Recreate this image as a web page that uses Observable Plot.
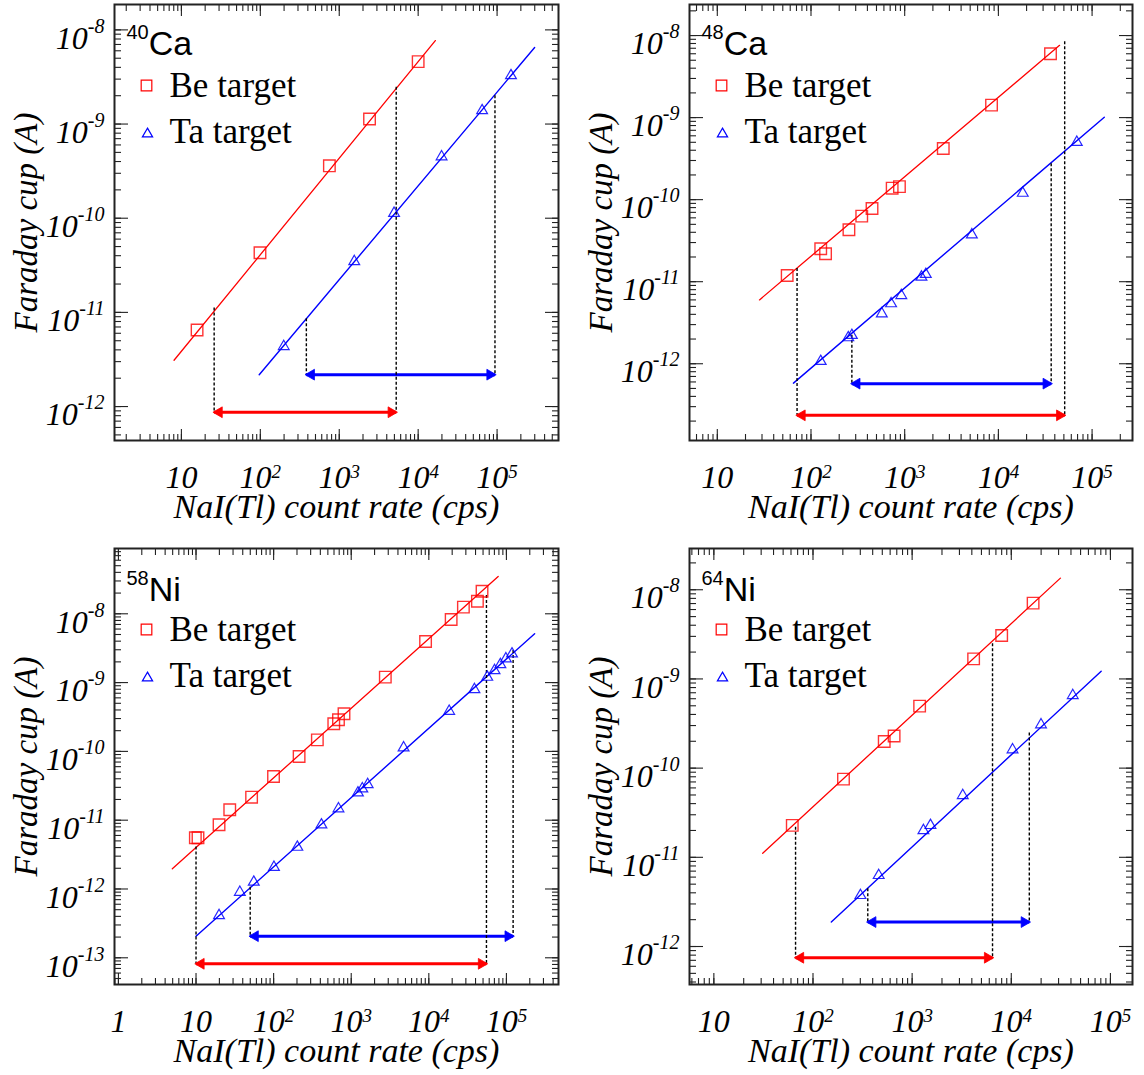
<!DOCTYPE html>
<html>
<head>
<meta charset="utf-8">
<script src="https://cdn.jsdelivr.net/npm/d3@7"></script>
<script src="https://cdn.jsdelivr.net/npm/@observablehq/plot@0.6"></script>
<style>
  body { margin: 0; background: #fff; }
  #grid { display: grid; grid-template-columns: 572px 572px; width: 1144px; }
  #grid svg { display: block; overflow: visible; }
</style>
</head>
<body>
<div id="grid"></div>
<script>
// ---------- Panel 1: 40Ca ----------
const ca40BeX = [15.8, 99, 750, 2420, 10000];
const ca40BeY = [6.5e-12, 4.3e-11, 3.6e-10, 1.13e-9, 4.6e-9];
const ca40TaX = [198, 1550, 4950, 19800, 64600, 150000];
const ca40TaY = [4.35e-12, 3.47e-11, 1.13e-10, 4.5e-10, 1.39e-9, 3.27e-9];
const ca40BeFitX = [8.07, 16500];
const ca40BeFitY = [3.1e-12, 7.7e-9];
const ca40TaFitX = [96.8, 299000];
const ca40TaFitY = [2.18e-12, 6.5e-9];
const ca40BeRangeX = [26, 5270];
const ca40BeRangeTop = [1.11e-11, 2.46e-9];
const ca40BeArrowY = [8.7e-13];
const ca40TaRangeX = [383, 94000];
const ca40TaRangeTop = [8.55e-12, 2.0e-9];
const ca40TaArrowY = [2.18e-12];

// ---------- Panel 2: 48Ca ----------
const ca48BeX = [55.7, 127, 143, 254, 348, 448, 735, 879, 2580, 8450, 36000];
const ca48BeY = [1.19e-11, 2.52e-11, 2.19e-11, 4.3e-11, 6.3e-11, 7.8e-11, 1.38e-10, 1.44e-10, 4.2e-10, 1.42e-9, 6.0e-9];
const ca48TaX = [127, 250, 273, 570, 716, 920, 1510, 1680, 5210, 18200, 68700];
const ca48TaY = [1.07e-12, 2.08e-12, 2.22e-12, 4.07e-12, 5.4e-12, 6.8e-12, 1.14e-11, 1.23e-11, 3.73e-11, 1.2e-10, 5.0e-10];
const ca48BeFitX = [28.2, 45000];
const ca48BeFitY = [6.0e-12, 7.6e-9];
const ca48TaFitX = [65, 135000];
const ca48TaFitY = [5.8e-13, 1.01e-9];
const ca48BeRangeX = [71, 51000];
const ca48BeRangeTop = [1.45e-11, 8.4e-9];
const ca48BeArrowY = [2.35e-13];
const ca48TaRangeX = [273, 36600];
const ca48TaRangeTop = [2.22e-12, 2.74e-10];
const ca48TaArrowY = [5.72e-13];

// ---------- Panel 3: 58Ni ----------
const ni58BeX = [9.8, 10.6, 19.8, 27.2, 52, 99.7, 213, 366, 596, 685, 807, 2750, 9080, 19400, 27900, 42300, 48500];
const ni58BeY = [5.55e-12, 5.55e-12, 8.57e-12, 1.42e-11, 2.16e-11, 4.31e-11, 8.43e-11, 1.47e-10, 2.52e-10, 2.88e-10, 3.52e-10, 1.2e-9, 3.95e-9, 8.26e-9, 1.25e-8, 1.52e-8, 2.13e-8];
const ni58TaX = [19.8, 36.7, 55.5, 101, 202, 413, 685, 1220, 1390, 1630, 4730, 18300, 38700, 56600, 70300, 83600, 98400, 118000];
const ni58TaY = [4.12e-13, 8.98e-13, 1.26e-12, 2.07e-12, 4.06e-12, 8.57e-12, 1.47e-11, 2.5e-11, 2.86e-11, 3.3e-11, 1.13e-10, 3.84e-10, 7.94e-10, 1.2e-9, 1.5e-9, 1.83e-9, 2.22e-9, 2.62e-9];
const ni58BeFitX = [4.95, 78300];
const ni58BeFitY = [1.97e-12, 3.48e-8];
const ni58TaFitX = [10, 231000];
const ni58TaFitY = [2.06e-13, 5.12e-9];
const ni58BeRangeX = [10, 55300];
const ni58BeRangeTop = [4.06e-12, 1.85e-8];
const ni58BeArrowY = [8.18e-14];
const ni58TaRangeX = [49.9, 122000];
const ni58TaRangeTop = [1.06e-12, 2.93e-9];
const ni58TaArrowY = [2.06e-13];

// ---------- Panel 4: 64Ni ----------
const ni64BeX = [61.8, 203, 523, 658, 1190, 4170, 8000, 16600];
const ni64BeY = [2.28e-11, 7.53e-11, 1.99e-10, 2.29e-10, 4.96e-10, 1.68e-9, 3.07e-9, 7.08e-9];
const ni64TaX = [301, 460, 1300, 1530, 3240, 10300, 19950, 41700];
const ni64TaY = [3.74e-12, 6.27e-12, 2.0e-11, 2.28e-11, 4.94e-11, 1.61e-10, 3.07e-10, 6.53e-10];
const ni64BeFitX = [31.1, 31300];
const ni64BeFitY = [1.11e-11, 1.35e-8];
const ni64TaFitX = [153, 80700];
const ni64TaFitY = [1.88e-12, 1.22e-9];
const ni64BeRangeX = [66.7, 6470];
const ni64BeRangeTop = [2.18e-11, 2.48e-9];
const ni64BeArrowY = [7.48e-13];
const ni64TaRangeX = [357, 15200];
const ni64TaRangeTop = [4.45e-12, 2.47e-10];
const ni64TaArrowY = [1.88e-12];

// ---------- axes: tick values and labels ----------
const xTicksA = [10, 100, 1e3, 1e4, 1e5];
const xLabelsA = ["10", "10^{2}", "10^{3}", "10^{4}", "10^{5}"];
const xTicksB = [1, 10, 100, 1e3, 1e4, 1e5];
const xLabelsB = ["1", "10", "10^{2}", "10^{3}", "10^{4}", "10^{5}"];
const yTicksA = [1e-8, 1e-9, 1e-10, 1e-11, 1e-12];
const yLabelsA = ["10^{-8}", "10^{-9}", "10^{-10}", "10^{-11}", "10^{-12}"];
const yTicksB = [1e-8, 1e-9, 1e-10, 1e-11, 1e-12, 1e-13];
const yLabelsB = ["10^{-8}", "10^{-9}", "10^{-10}", "10^{-11}", "10^{-12}", "10^{-13}"];

const nuclides = ["^{40}Ca", "^{48}Ca", "^{58}Ni", "^{64}Ni"];
const legendLabels = ["Be target", "Ta target"];
const xTitle = ["NaI(Tl) count rate (cps)"];
const yTitle = ["Faraday cup (A)"];

const xDomains = [[1.42, 6.0e5], [5.05, 2.7e5], [0.89, 4.69e5], [5.68, 1.67e5]];
const yDomains = [[4.36e-13, 1.86e-8], [1.16e-13, 2.39e-8], [4.09e-14, 8.89e-8], [3.75e-13, 2.9e-8]];

const RED = "#ff0000", BLUE = "#0000ff";
const SERIF = "'Liberation Serif','Times New Roman',Times,serif";
const SANS = "'Liberation Sans',Arial,Helvetica,sans-serif";

const panels = [
  {name: nuclides[0], beX: ca40BeX, beY: ca40BeY, taX: ca40TaX, taY: ca40TaY,
   beFitX: ca40BeFitX, beFitY: ca40BeFitY, taFitX: ca40TaFitX, taFitY: ca40TaFitY,
   beRX: ca40BeRangeX, beRTop: ca40BeRangeTop, beAY: ca40BeArrowY,
   taRX: ca40TaRangeX, taRTop: ca40TaRangeTop, taAY: ca40TaArrowY,
   xTicks: xTicksA, xLabels: xLabelsA, yTicks: yTicksA, yLabels: yLabelsA,
   xDomain: xDomains[0], yDomain: yDomains[0],
   height: 540, mt: 4, mb: 100, ml: 114, mr: 14, nameDy: 50},
  {name: nuclides[1], beX: ca48BeX, beY: ca48BeY, taX: ca48TaX, taY: ca48TaY,
   beFitX: ca48BeFitX, beFitY: ca48BeFitY, taFitX: ca48TaFitX, taFitY: ca48TaFitY,
   beRX: ca48BeRangeX, beRTop: ca48BeRangeTop, beAY: ca48BeArrowY,
   taRX: ca48TaRangeX, taRTop: ca48TaRangeTop, taAY: ca48TaArrowY,
   xTicks: xTicksA, xLabels: xLabelsA, yTicks: yTicksA, yLabels: yLabelsA,
   xDomain: xDomains[1], yDomain: yDomains[1],
   height: 540, mt: 4, mb: 100, ml: 117, mr: 12, nameDy: 50},
  {name: nuclides[2], beX: ni58BeX, beY: ni58BeY, taX: ni58TaX, taY: ni58TaY,
   beFitX: ni58BeFitX, beFitY: ni58BeFitY, taFitX: ni58TaFitX, taFitY: ni58TaFitY,
   beRX: ni58BeRangeX, beRTop: ni58BeRangeTop, beAY: ni58BeArrowY,
   taRX: ni58TaRangeX, taRTop: ni58TaRangeTop, taAY: ni58TaArrowY,
   xTicks: xTicksB, xLabels: xLabelsB, yTicks: yTicksB, yLabels: yLabelsB,
   xDomain: xDomains[2], yDomain: yDomains[2],
   height: 535, mt: 8, mb: 91, ml: 114, mr: 14, nameDy: 52},
  {name: nuclides[3], beX: ni64BeX, beY: ni64BeY, taX: ni64TaX, taY: ni64TaY,
   beFitX: ni64BeFitX, beFitY: ni64BeFitY, taFitX: ni64TaFitX, taFitY: ni64TaFitY,
   beRX: ni64BeRangeX, beRTop: ni64BeRangeTop, beAY: ni64BeArrowY,
   taRX: ni64TaRangeX, taRTop: ni64TaRangeTop, taAY: ni64TaArrowY,
   xTicks: xTicksA, xLabels: xLabelsA, yTicks: yTicksA, yLabels: yLabelsA,
   xDomain: xDomains[3], yDomain: yDomains[3],
   height: 535, mt: 8, mb: 91, ml: 117, mr: 12, nameDy: 52}
];

function rangeMarks(rx, rtop, ay, color) {
  return [
    Plot.ruleX(rx, {x: d => d, y1: (d, i) => rtop[i], y2: () => ay[0],
      stroke: "black", strokeWidth: 1.4, strokeDasharray: "3,2"}),
    Plot.link(ay, {x1: () => rx[0], x2: () => rx[1], y1: d => d, y2: d => d,
      stroke: color, strokeWidth: 3}),
    Plot.dot(ay, {x: () => rx[0], y: d => d, symbol: "triangle", rotate: -90, r: 4,
      fill: color, stroke: color, strokeWidth: 0.8, dx: 5}),
    Plot.dot(ay, {x: () => rx[1], y: d => d, symbol: "triangle", rotate: 90, r: 4,
      fill: color, stroke: color, strokeWidth: 0.8, dx: -5})
  ];
}

function makePanel(p) {
  const xLab = new Map(p.xTicks.map((v, i) => [v, p.xLabels[i]]));
  const yLab = new Map(p.yTicks.map((v, i) => [v, p.yLabels[i]]));
  const tk = {stroke: "#222", strokeWidth: 1.1, fill: "none"};
  const txt = {fontFamily: SERIF, fontStyle: "italic", fontSize: 32, fill: "black"};
  const marks = [];
  for (const anchor of ["bottom", "top"]) {
    marks.push(Plot.axisX({anchor, ticks: 80, tickSize: -6, ...tk}));
    marks.push(Plot.axisX(p.xTicks, {anchor, tickSize: -11, ...tk}));
  }
  for (const anchor of ["left", "right"]) {
    marks.push(Plot.axisY({anchor, ticks: 80, tickSize: -7, ...tk}));
    marks.push(Plot.axisY(p.yTicks, {anchor, tickSize: -14, ...tk}));
  }
  marks.push(
    Plot.axisX(p.xTicks, {anchor: "bottom", tickSize: 0, tickPadding: 24.5,
      tickFormat: d => xLab.get(d), label: null, ...txt}),
    Plot.axisY(p.yTicks, {anchor: "left", tickSize: 0, tickPadding: 10, dy: 8.5,
      tickFormat: d => yLab.get(d), label: null, ...txt}),
    Plot.frame({stroke: "#222", strokeWidth: 2}),
    // fit lines
    Plot.line(p.beFitX, {x: d => d, y: (d, i) => p.beFitY[i], stroke: RED, strokeWidth: 1.3}),
    Plot.line(p.taFitX, {x: d => d, y: (d, i) => p.taFitY[i], stroke: BLUE, strokeWidth: 1.4}),
    // ranges
    ...rangeMarks(p.taRX, p.taRTop, p.taAY, BLUE),
    ...rangeMarks(p.beRX, p.beRTop, p.beAY, RED),
    // data points
    Plot.dot(p.beX, {x: d => d, y: (d, i) => p.beY[i], symbol: "square", r: 6.5,
      stroke: RED, strokeOpacity: 0.8, strokeWidth: 1.4, fill: "none"}),
    Plot.dot(p.taX, {x: d => d, y: (d, i) => p.taY[i], symbol: "triangle", r: 4,
      stroke: BLUE, strokeOpacity: 0.85, strokeWidth: 1.2, fill: "none"}),
    // nuclide label
    Plot.text([p.name], {frameAnchor: "top-left", dx: 12, dy: p.nameDy, textAnchor: "start",
      lineAnchor: "bottom", fontFamily: SANS, fontSize: 34, fill: "black"}),
    // legend
    Plot.dot([legendLabels[0]], {frameAnchor: "top-left", dx: 32, dy: 81, symbol: "square", r: 6,
      stroke: RED, strokeWidth: 1.2, fill: "none"}),
    Plot.dot([legendLabels[1]], {frameAnchor: "top-left", dx: 33, dy: 129.5, symbol: "triangle", r: 3.8,
      stroke: BLUE, strokeWidth: 1.2, fill: "none"}),
    Plot.text([legendLabels[0]], {frameAnchor: "top-left", dx: 55, dy: 92, textAnchor: "start",
      lineAnchor: "bottom", fontFamily: SERIF, fontSize: 35, fill: "black"}),
    Plot.text([legendLabels[1]], {frameAnchor: "top-left", dx: 55, dy: 138, textAnchor: "start",
      lineAnchor: "bottom", fontFamily: SERIF, fontSize: 35, fill: "black"}),
    // axis titles
    Plot.text(xTitle, {frameAnchor: "bottom", dy: 77.5, textAnchor: "middle", lineAnchor: "bottom",
      fontFamily: SERIF, fontStyle: "italic", fontSize: 34, fill: "black"}),
    Plot.text(yTitle, {frameAnchor: "left", dx: -77.5, rotate: -90, textAnchor: "middle", lineAnchor: "bottom",
      fontFamily: SERIF, fontStyle: "italic", fontSize: 33, fill: "black"})
  );
  return Plot.plot({
    width: 572, height: p.height,
    marginLeft: p.ml, marginRight: p.mr, marginTop: p.mt, marginBottom: p.mb,
    x: {type: "log", domain: p.xDomain, axis: null},
    y: {type: "log", domain: p.yDomain, axis: null},
    style: {background: "white", overflow: "visible"},
    marks
  });
}

const SUP = {
  "x-axis tick label": {size: 19, shift: 10},
  "y-axis tick label": {size: 20, shift: 16},
  "other": {size: 20, shift: 16}
};
function addSuperscripts(svg) {
  svg.querySelectorAll("text").forEach(t => {
    const s = t.textContent;
    if (!s.includes("^{")) return;
    const g = t.closest("g[aria-label]");
    const cfg = SUP[g ? g.getAttribute("aria-label") : "other"] || SUP.other;
    const parts = s.split(/(\^\{[^}]*\})/).filter(x => x);
    t.textContent = "";
    let cur = 0;
    for (const part of parts) {
      const sup = part.startsWith("^{");
      const tgt = sup ? -cfg.shift : 0;
      const ts = document.createElementNS("http://www.w3.org/2000/svg", "tspan");
      if (tgt !== cur) ts.setAttribute("dy", tgt - cur);
      if (sup) ts.setAttribute("font-size", cfg.size);
      ts.textContent = sup ? part.slice(2, -1) : part;
      t.appendChild(ts);
      cur = tgt;
    }
  });
}

const grid = document.getElementById("grid");
for (const p of panels) {
  const svg = makePanel(p);
  grid.appendChild(svg);
  addSuperscripts(svg);
}
</script>
</body>
</html>
